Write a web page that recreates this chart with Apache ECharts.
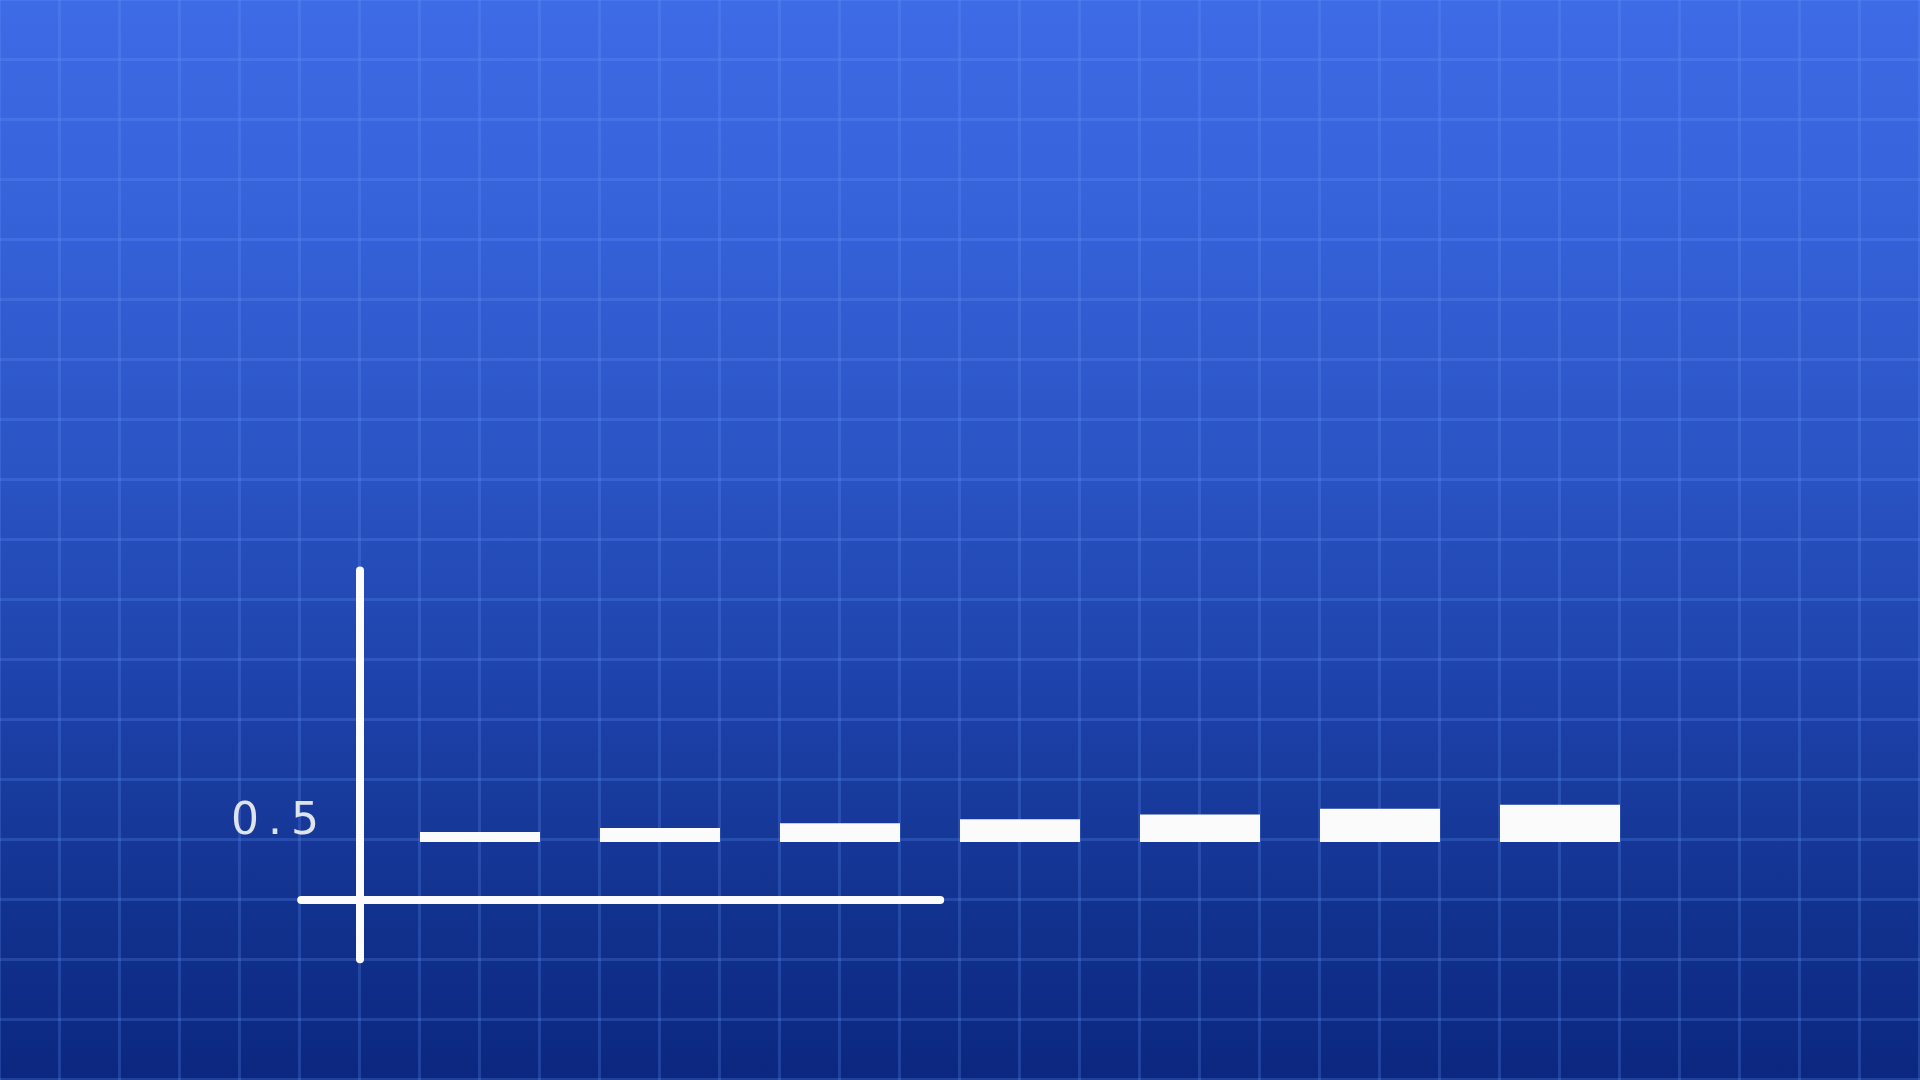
<!DOCTYPE html>
<html>
<head>
<meta charset="utf-8">
<script src="https://cdn.jsdelivr.net/npm/echarts@6/dist/echarts.min.js"></script>
<style>
html, body { margin: 0; padding: 0; width: 1920px; height: 1080px; overflow: hidden; }
body {
  background:
    repeating-linear-gradient(to right, rgba(105,155,255,0.22) 0px, rgba(105,155,255,0.22) 1.5px, transparent 1.5px, transparent 58.5px, rgba(105,155,255,0.22) 58.5px, rgba(105,155,255,0.22) 60px),
    repeating-linear-gradient(to bottom, rgba(105,155,255,0.22) 0px, rgba(105,155,255,0.22) 1.5px, transparent 1.5px, transparent 58.5px, rgba(105,155,255,0.22) 58.5px, rgba(105,155,255,0.22) 60px),
    linear-gradient(to bottom, #3e6be6 0%, #3561d8 22%, #2a53c3 44%, #1d42aa 64%, #12328f 84%, #0b2780 100%);
}
#chart { width: 1920px; height: 1080px; }
</style>
</head>
<body>
<div id="chart"></div>
<script>
// ---- data ----
const barPositions = [2, 5, 8, 11, 14, 17, 20];
const barLow = [0.3625, 0.3625, 0.3625, 0.3625, 0.3625, 0.3625, 0.3625];
const barHigh = [0.425, 0.45, 0.48, 0.505, 0.535, 0.57, 0.595];
const barSpan = 2;
const yTickLabels = [0.5];
const yAxisLineRange = [-0.37, 2.06];
const xAxisLineRange = [-0.98, 9.67];

const white = '#fbfbfb';
const chart = echarts.init(document.getElementById('chart'), null, { renderer: 'canvas' });

chart.setOption({
  backgroundColor: 'transparent',
  animation: false,
  grid: { left: 0, right: 0, top: 0, bottom: 0, containLabel: false, outerBoundsMode: 'none' },
  xAxis: {
    type: 'value', min: -6, max: 26,
    axisLine: { show: false, onZero: false }, axisTick: { show: false },
    axisLabel: { show: false }, splitLine: { show: false }
  },
  yAxis: {
    type: 'value', min: -1.125, max: 5.625,
    offset: -360,
    axisLine: { show: false, onZero: false }, axisTick: { show: false },
    splitLine: { show: false },
    axisLabel: {
      show: true,
      customValues: yTickLabels,
      margin: 40,
      formatter: v => String(v).split('').map(c => '{d|' + c + '}').join(''),
      rich: {
        d: { width: 30, align: 'center', fontSize: 44, fontFamily: 'DejaVu Sans', color: '#dfe3ec', padding: [6, 0, 0, 0] }
      }
    }
  },
  series: [
    {
      type: 'custom', silent: true, clip: false,
      data: barPositions.map((x, i) => [x, barLow[i], barHigh[i]]),
      encode: { x: 0, y: [1, 2] },
      renderItem: (params, api) => {
        const x = api.value(0);
        const lo = api.coord([x, api.value(1)]);
        const hi = api.coord([x, api.value(2)]);
        const w = api.size([barSpan, 0])[0];
        return {
          type: 'rect',
          shape: { x: lo[0] - w / 2, y: hi[1], width: w, height: lo[1] - hi[1] },
          style: { fill: white }
        };
      }
    },
    {
      type: 'line', symbol: 'none', silent: true,
      lineStyle: { color: white, width: 8, cap: 'round' },
      data: [[0, yAxisLineRange[0]], [0, yAxisLineRange[1]]]
    },
    {
      type: 'line', symbol: 'none', silent: true,
      lineStyle: { color: white, width: 8, cap: 'round' },
      data: [[xAxisLineRange[0], 0], [xAxisLineRange[1], 0]]
    }
  ]
});
</script>
</body>
</html>
